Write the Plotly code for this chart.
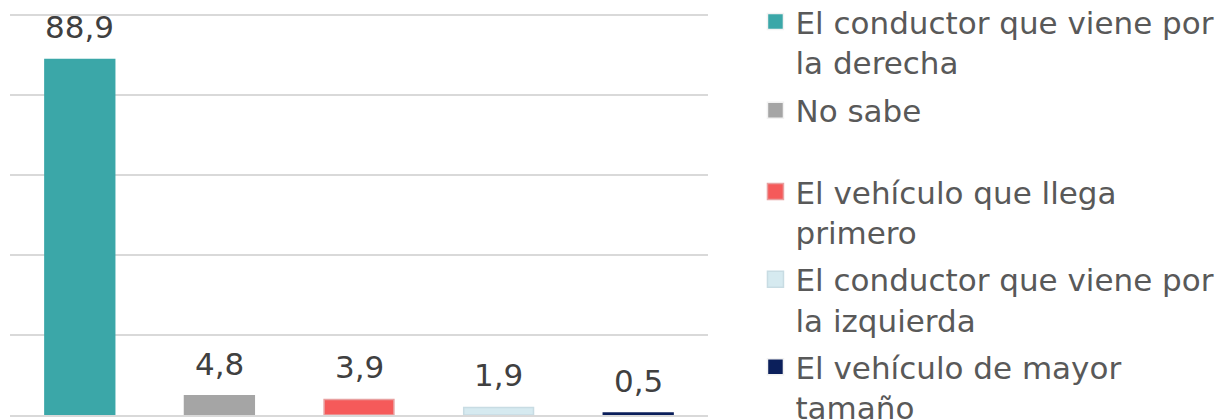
import plotly.graph_objects as go

categories = ["El conductor que viene por<br>la derecha", "No sabe<br> ",
              "El vehículo que llega<br>primero", "El conductor que viene por<br>la izquierda",
              "El vehículo de mayor<br>tamaño"]
labels = ["88,9", "4,8", "3,9", "1,9", "0,5"]
values = [88.9, 4.8, 3.9, 1.9, 0.5]
colors = ["#3BA7A8", "#A5A5A5", "#F55A5A", "#D6EAF0", "#0B1F5B"]
borders = ["#3BA7A8", "#A5A5A5", "#E8A0A0", "#C8DCE3", "#0B1F5B"]
yticks = [0, 20, 40, 60, 80, 100]

fig = go.Figure()
fig.add_trace(go.Bar(
    x=list(range(len(values))), y=values, showlegend=False,
    marker=dict(color=colors, line=dict(color=borders, width=1.5)),
    width=0.5, hoverinfo="skip",
))
# legend entries
for i, c in enumerate(categories):
    fig.add_trace(go.Scatter(
        x=[None], y=[None], mode="markers", name=c,
        marker=dict(symbol="square", size=16, color=colors[i],
                    line=dict(color=borders[i] if i in (2, 3) else "#F2F2F2", width=1.5)),
        legend="legend" if i < 2 else "legend2",
        legendgroup=f"g{i}",
    ))

for i, v in enumerate(values):
    fig.add_annotation(x=i, y=v, text=labels[i], showarrow=False,
                       yanchor="middle", yshift=32,
                       font=dict(size=31, color="#404040", family="DejaVu Sans"))

legfont = dict(size=31, color="#595959", family="DejaVu Sans")
fig.update_layout(
    width=1231, height=420,
    margin=dict(l=2, r=531, t=5, b=13, autoexpand=False),
    plot_bgcolor="white", paper_bgcolor="white",
    font=dict(family="DejaVu Sans", color="#595959"),
    showlegend=True,
    legend=dict(x=1.068, y=1.045, xanchor="left", yanchor="top", font=legfont, valign="top",
                tracegroupgap=5, itemwidth=30, bgcolor="rgba(0,0,0,0)"),
    legend2=dict(x=1.068, y=0.622, xanchor="left", yanchor="top", font=legfont, valign="top",
                 tracegroupgap=4, itemwidth=30, bgcolor="rgba(0,0,0,0)"),
    xaxis=dict(range=[-0.5, 4.5], showticklabels=False, showgrid=False, zeroline=False,
               showline=True, linecolor="#D9D9D9", linewidth=1.5),
    yaxis=dict(range=[0, 100.5], tickvals=yticks, showticklabels=False,
               showgrid=True, gridcolor="#D9D9D9", gridwidth=1.5, zeroline=False),
)
fig.write_html("out.html")
